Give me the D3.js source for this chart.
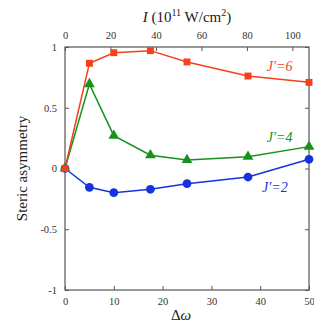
<!DOCTYPE html>
<html>
<head>
<meta charset="utf-8">
<script src="https://cdn.jsdelivr.net/npm/d3@7"></script>
<style>
	body { margin: 0; background: #fff; }
	svg text { font-family: 'Liberation Serif', 'DejaVu Serif', serif; }
</style>
</head>
<body>
<div id="chart"></div>
<script>
const dOmega = [0, 5, 10, 17.5, 25, 37.5, 50]
const j2 = [0, -0.155, -0.199, -0.171, -0.125, -0.07, 0.076]
const j4 = [0, 0.695, 0.27, 0.109, 0.07, 0.097, 0.18]
const j6 = [0, 0.866, 0.953, 0.97, 0.877, 0.761, 0.709]
const xTicks = [0, 10, 20, 30, 40, 50]
const topTicks = [0, 20, 40, 60, 80, 100]
const yTicks = [-1, -0.5, 0, 0.5, 1]

const width = 314
const height = 328
const margin = { top: 47, right: 5, bottom: 38, left: 65 }
const iw = width - margin.left - margin.right
const ih = height - margin.top - margin.bottom

const svg = d3.select('#chart').append('svg').attr('width', width).attr('height', height)
const g = svg.append('g').attr('transform', `translate(${margin.left},${margin.top})`)

const x = d3.scaleLinear().domain([0, 50]).range([0, iw])
const xTop = d3.scaleLinear().domain([0, 107.3]).range([0, iw])
const y = d3.scaleLinear().domain([-1, 1]).range([ih, 0])

const axisColor = '#555'
function styleAxis(sel) {
	sel.attr('font-family', null)
	sel.select('.domain').remove()
	sel.selectAll('line').attr('stroke', axisColor)
	sel.selectAll('text').attr('fill', '#333').style('font-size', '10.5px')
}

g.append('g')
	.attr('transform', `translate(0,${ih})`)
	.call(d3.axisBottom(x).tickValues(xTicks).tickSize(-4).tickPadding(8).tickFormat(d3.format('d')))
	.call(styleAxis)

g.append('g')
	.call(d3.axisTop(xTop).tickValues(topTicks).tickSize(-4).tickPadding(8).tickFormat(d3.format('d')))
	.call(styleAxis)

g.append('g')
	.call(d3.axisLeft(y).tickValues(yTicks).tickSize(-4).tickPadding(8).tickFormat((d) => String(d)))
	.call(styleAxis)

g.append('g')
	.attr('transform', `translate(${iw},0)`)
	.call(d3.axisRight(y).tickValues(yTicks).tickSize(-4).tickFormat(''))
	.call(styleAxis)

g.append('rect')
	.attr('width', iw)
	.attr('height', ih)
	.attr('fill', 'none')
	.attr('stroke', axisColor)
	.attr('stroke-width', 1.2)

const series = [
	{ vals: j2, color: '#1432e0', shape: d3.symbolCircle, size: 60, label: "J\u2032=2", lx: 43, ly: -0.19 },
	{ vals: j4, color: '#17921d', shape: d3.symbolTriangle, size: 50, label: "J\u2032=4", lx: 44, ly: 0.22 },
	{ vals: j6, color: '#f5401c', shape: d3.symbolSquare, size: 48, label: "J\u2032=6", lx: 44, ly: 0.8 }
]

const line = d3.line().x((d, i) => x(dOmega[i])).y((d) => y(d))

series.forEach((s) => {
	g.append('path')
		.datum(s.vals)
		.attr('d', line)
		.attr('fill', 'none')
		.attr('stroke', s.color)
		.attr('stroke-width', 1.5)
})

series.forEach((s) => {
	g.selectAll(null)
		.data(s.vals)
		.enter()
		.append('path')
		.attr('transform', (d, i) => `translate(${x(dOmega[i])},${y(d)})`)
		.attr('d', d3.symbol().type(s.shape).size(s.size))
		.attr('fill', s.color)
	g.append('text')
		.attr('x', x(s.lx))
		.attr('y', y(s.ly))
		.attr('text-anchor', 'middle')
		.attr('fill', s.color)
		.style('font-size', '14px')
		.style('font-style', 'italic')
		.text(s.label)
})

// axis titles
svg.append('text')
	.attr('transform', `translate(27,${margin.top + ih / 2}) rotate(-90)`)
	.attr('text-anchor', 'middle')
	.style('font-size', '15px')
	.attr('fill', '#222')
	.text('Steric asymmetry')

const xt = svg.append('text')
	.attr('x', margin.left + iw / 2 - 6)
	.attr('y', 320)
	.attr('text-anchor', 'middle')
	.style('font-size', '15px')
	.attr('fill', '#222')
xt.append('tspan').text('\u0394')
xt.append('tspan').style('font-style', 'italic').text('\u03c9')

const tt = svg.append('text')
	.attr('x', margin.left + iw / 2)
	.attr('y', 22)
	.attr('text-anchor', 'middle')
	.style('font-size', '15px')
	.attr('fill', '#222')
tt.append('tspan').style('font-style', 'italic').text('I')
tt.append('tspan').text(' (10')
tt.append('tspan').attr('dy', -6).style('font-size', '10px').text('11')
tt.append('tspan').attr('dy', 6).text(' W/cm')
tt.append('tspan').attr('dy', -6).style('font-size', '10px').text('2')
tt.append('tspan').attr('dy', 6).text(')')
</script>
</body>
</html>
